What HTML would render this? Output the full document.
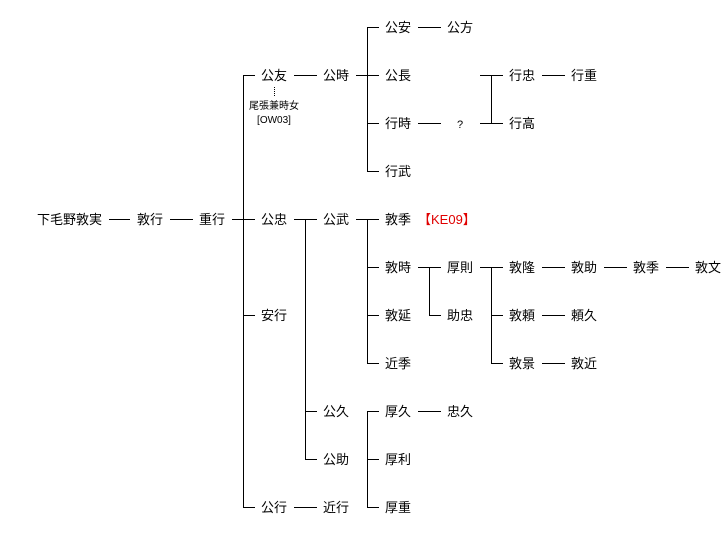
<!DOCTYPE html>
<html><head><meta charset="utf-8"><style>
html,body{margin:0;padding:0;background:#fff;}
svg{display:block;}
text{font-family:"Liberation Sans","Noto Sans CJK JP",sans-serif;font-size:13px;fill:#000;}
</style></head><body>
<svg width="728" height="559" viewBox="0 0 728 559" xmlns="http://www.w3.org/2000/svg">
<g stroke="#000" stroke-width="1" fill="none" shape-rendering="crispEdges">
<!-- verticals -->
<line x1="243.5" y1="75" x2="243.5" y2="508"/>
<line x1="305.5" y1="219" x2="305.5" y2="460"/>
<line x1="367.5" y1="27" x2="367.5" y2="172"/>
<line x1="367.5" y1="219" x2="367.5" y2="364"/>
<line x1="367.5" y1="411" x2="367.5" y2="508"/>
<line x1="429.5" y1="267" x2="429.5" y2="316"/>
<line x1="491.5" y1="75" x2="491.5" y2="124"/>
<line x1="491.5" y1="267" x2="491.5" y2="364"/>
<!-- r0 -->
<line x1="367" y1="27.5" x2="379" y2="27.5"/><line x1="418" y1="27.5" x2="441" y2="27.5"/>
<!-- r1 -->
<line x1="243" y1="75.5" x2="255" y2="75.5"/><line x1="294" y1="75.5" x2="317" y2="75.5"/>
<line x1="356" y1="75.5" x2="379" y2="75.5"/><line x1="480" y1="75.5" x2="503" y2="75.5"/>
<line x1="542" y1="75.5" x2="565" y2="75.5"/>
<!-- r2 -->
<line x1="367" y1="123.5" x2="379" y2="123.5"/><line x1="418" y1="123.5" x2="441" y2="123.5"/>
<line x1="480" y1="123.5" x2="503" y2="123.5"/>
<!-- r3 -->
<line x1="367" y1="171.5" x2="379" y2="171.5"/>
<!-- r4 -->
<line x1="109" y1="219.5" x2="130" y2="219.5"/><line x1="170" y1="219.5" x2="193" y2="219.5"/>
<line x1="232" y1="219.5" x2="255" y2="219.5"/><line x1="294" y1="219.5" x2="317" y2="219.5"/>
<line x1="356" y1="219.5" x2="379" y2="219.5"/>
<!-- r5 -->
<line x1="367" y1="267.5" x2="379" y2="267.5"/><line x1="418" y1="267.5" x2="441" y2="267.5"/>
<line x1="480" y1="267.5" x2="503" y2="267.5"/><line x1="542" y1="267.5" x2="565" y2="267.5"/>
<line x1="604" y1="267.5" x2="627" y2="267.5"/><line x1="666" y1="267.5" x2="689" y2="267.5"/>
<!-- r6 -->
<line x1="243" y1="315.5" x2="255" y2="315.5"/><line x1="367" y1="315.5" x2="379" y2="315.5"/>
<line x1="429" y1="315.5" x2="441" y2="315.5"/><line x1="491" y1="315.5" x2="503" y2="315.5"/>
<line x1="542" y1="315.5" x2="565" y2="315.5"/>
<!-- r7 -->
<line x1="367" y1="363.5" x2="379" y2="363.5"/><line x1="491" y1="363.5" x2="503" y2="363.5"/>
<line x1="542" y1="363.5" x2="565" y2="363.5"/>
<!-- r8 -->
<line x1="305" y1="411.5" x2="317" y2="411.5"/><line x1="367" y1="411.5" x2="379" y2="411.5"/>
<line x1="418" y1="411.5" x2="441" y2="411.5"/>
<!-- r9 -->
<line x1="305" y1="459.5" x2="317" y2="459.5"/><line x1="367" y1="459.5" x2="379" y2="459.5"/>
<!-- r10 -->
<line x1="243" y1="507.5" x2="255" y2="507.5"/><line x1="294" y1="507.5" x2="317" y2="507.5"/>
<line x1="367" y1="507.5" x2="379" y2="507.5"/>
<!-- dotted -->
<line x1="274.5" y1="87" x2="274.5" y2="97" stroke-dasharray="1,1"/>
</g>
<g>
<text x="385" y="32">公安</text><text x="447" y="32">公方</text>
<text x="261" y="80">公友</text><text x="323" y="80">公時</text><text x="385" y="80">公長</text><text x="509" y="80">行忠</text><text x="571" y="80">行重</text>
<text x="385" y="128">行時</text><text x="457" y="128" style="font-size:11px">?</text><text x="509" y="128">行高</text>
<text x="385" y="176">行武</text>
<text x="37" y="224">下毛野敦実</text><text x="137" y="224">敦行</text><text x="199" y="224">重行</text><text x="261" y="224">公忠</text><text x="323" y="224">公武</text><text x="385" y="224">敦季</text>
<text x="418" y="224" style="fill:#e00000">【KE09】</text>
<text x="385" y="272">敦時</text><text x="447" y="272">厚則</text><text x="509" y="272">敦隆</text><text x="571" y="272">敦助</text><text x="633" y="272">敦季</text><text x="695" y="272">敦文</text>
<text x="261" y="320">安行</text><text x="385" y="320">敦延</text><text x="447" y="320">助忠</text><text x="509" y="320">敦頼</text><text x="571" y="320">頼久</text>
<text x="385" y="368">近季</text><text x="509" y="368">敦景</text><text x="571" y="368">敦近</text>
<text x="323" y="416">公久</text><text x="385" y="416">厚久</text><text x="447" y="416">忠久</text>
<text x="323" y="464">公助</text><text x="385" y="464">厚利</text>
<text x="261" y="512">公行</text><text x="323" y="512">近行</text><text x="385" y="512">厚重</text>
<text x="274" y="109" text-anchor="middle" style="font-size:10px">尾張兼時女</text>
<text x="274" y="123" text-anchor="middle" style="font-size:10px">[OW03]</text>
</g>
</svg>
</body></html>
